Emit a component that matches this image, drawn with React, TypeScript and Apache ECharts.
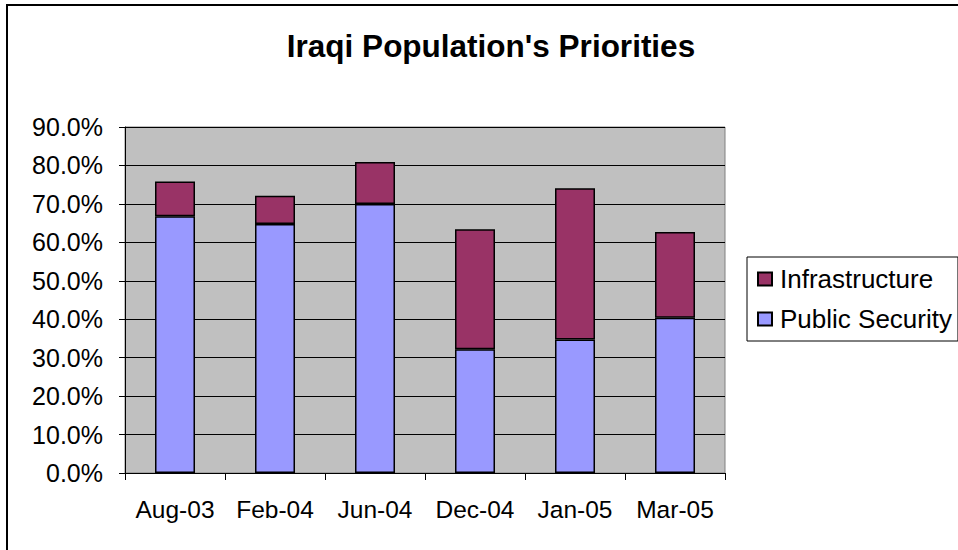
import React, { useEffect, useRef } from "react";
import * as echarts from "echarts";

const categories = ["Aug-03", "Feb-04", "Jun-04", "Dec-04", "Jan-05", "Mar-05"];
const publicSecurity = [66.8, 64.8, 70.0, 32.2, 34.7, 40.4];
const infrastructure = [9.0, 7.3, 10.9, 31.2, 39.4, 22.3];
const titleText = "Iraqi Population's Priorities";
const FONT = "'Liberation Sans', Arial, sans-serif";

export default function App() {
  const ref = useRef<HTMLDivElement>(null);
  useEffect(() => {
    if (!ref.current) return;
    const chart = echarts.init(ref.current, null, { renderer: "svg" });
    chart.setOption({
      animation: false,
      backgroundColor: "#ffffff",
      textStyle: { fontFamily: FONT },
      title: {
        text: titleText,
        left: 486,
        top: 25,
        textAlign: "center",
        textStyle: { fontFamily: FONT, fontSize: 31.5, fontWeight: "bold", color: "#000" },
      },
      graphic: [
        {
          type: "rect",
          shape: { x: 7, y: 5, width: 1000, height: 600 },
          style: { fill: "none", stroke: "#000", lineWidth: 2 },
          silent: true,
          z: 100,
        },
      ],
      legend: {
        orient: "vertical",
        left: 747,
        top: 257,
        padding: [9, 6, 9, 10],
        itemGap: 14,
        itemWidth: 14,
        itemHeight: 13,
        borderColor: "#000",
        borderWidth: 1,
        backgroundColor: "#fff",
        data: [
          { name: "Infrastructure", icon: "rect" },
          { name: "Public Security", icon: "rect" },
        ],
        textStyle: { fontFamily: FONT, fontSize: 26, color: "#000", padding: [0, 0, 0, 3] },
      },
      grid: {
        left: 125,
        right: 233,
        top: 127,
        bottom: 77,
        show: true,
        backgroundColor: "#C0C0C0",
        borderColor: "#808080",
        borderWidth: 1,
      },
      xAxis: {
        type: "category",
        data: categories,
        axisLine: { show: true, lineStyle: { color: "#000", width: 1 } },
        axisTick: { show: true, length: 7, lineStyle: { color: "#000" } },
        axisLabel: { fontFamily: FONT, fontSize: 24.5, color: "#000", margin: 24, interval: 0 },
      },
      yAxis: {
        type: "value",
        min: 0,
        max: 90,
        interval: 10,
        axisLine: { show: true, lineStyle: { color: "#000", width: 1 } },
        axisTick: { show: true, length: 6, lineStyle: { color: "#000" } },
        axisLabel: {
          fontFamily: FONT,
          fontSize: 25,
          color: "#000",
          margin: 22,
          formatter: (v: number) => v.toFixed(1) + "%",
        },
        splitLine: { show: true, lineStyle: { color: "#000", width: 1 } },
      },
      series: [
        {
          name: "Public Security",
          type: "bar",
          stack: "total",
          barWidth: "40%",
          data: publicSecurity,
          itemStyle: { color: "#9999FF", borderColor: "#000", borderWidth: 1.5 },
        },
        {
          name: "Infrastructure",
          type: "bar",
          stack: "total",
          barWidth: "40%",
          data: infrastructure,
          itemStyle: { color: "#993366", borderColor: "#000", borderWidth: 1.5 },
        },
      ],
    });
    return () => chart.dispose();
  }, []);
  return (
    <div
      ref={ref}
      style={{ position: "fixed", left: 0, top: 0, width: 958, height: 550 }}
    />
  );
}
